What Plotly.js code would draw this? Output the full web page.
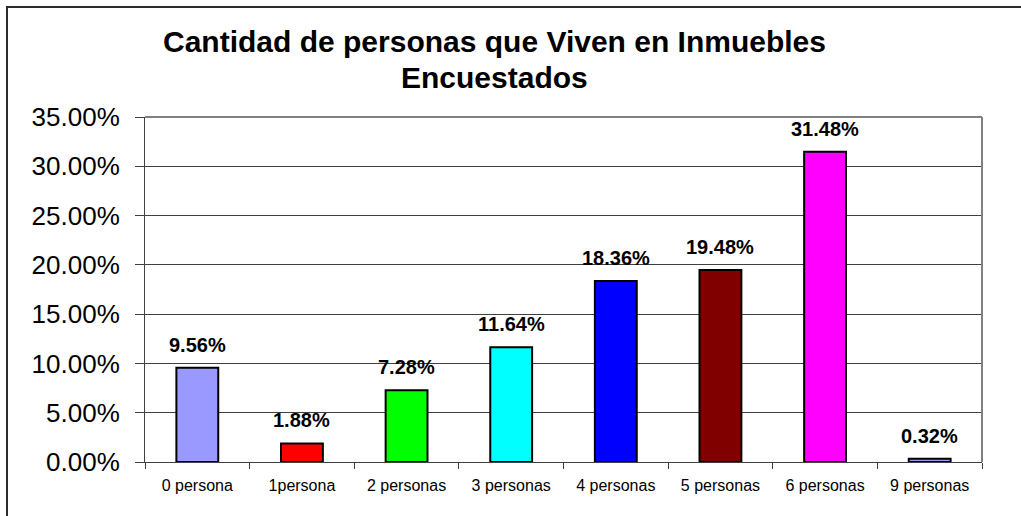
<!DOCTYPE html>
<html>
<head>
<meta charset="utf-8">
<script src="https://cdn.plot.ly/plotly-3.0.1.min.js"></script>
<style>
  html, body { margin: 0; padding: 0; background: #ffffff; }
  #wrap { position: relative; width: 1021px; height: 516px; overflow: hidden; }
  #chart { position: absolute; left: 0; top: 0; width: 1021px; height: 516px; }
  #frame { position: absolute; left: 6px; top: 6px; width: 1100px; height: 600px;
           border-left: 2px solid #2b2b2b; border-top: 2px solid #2b2b2b; pointer-events: none; }
</style>
</head>
<body>
<div id="wrap">
  <div id="chart"></div>
  <div id="frame"></div>
</div>
<script>
const categories = ["0 persona", "1persona", "2 personas", "3 personas", "4 personas", "5 personas", "6 personas", "9 personas"];
const values = [0.0956, 0.0188, 0.0728, 0.1164, 0.1836, 0.1948, 0.3148, 0.0032];
const labels = ["9.56%", "1.88%", "7.28%", "11.64%", "18.36%", "19.48%", "31.48%", "0.32%"];
const colors = ["#9999FF", "#FF0000", "#00FF00", "#00FFFF", "#0000FF", "#800000", "#FF00FF", "#9999FF"];
const titleLines = ["Cantidad de personas que Viven en Inmuebles", "Encuestados"];

const FONT = "Arial, 'Liberation Sans', sans-serif";

const trace = {
  type: "bar",
  x: categories,
  y: values,
  marker: { color: colors, line: { color: "#000000", width: 2 } },
  hoverinfo: "none"
};

const annotations = categories.map((c, i) => ({
  x: c, y: values[i], xref: "x", yref: "y",
  text: "<b>" + labels[i] + "</b>",
  showarrow: false, yanchor: "bottom", yshift: 10,
  font: { family: FONT, size: 20, color: "#000000" }
}));

// title lines as annotations (paper coords relative to plot area)
const titleY = [1.165, 1.061];
titleLines.forEach((t, i) => {
  annotations.push({
    x: 0.418, y: titleY[i], xref: "paper", yref: "paper",
    xanchor: "center", yanchor: "bottom",
    text: "<b>" + t + "</b>", showarrow: false,
    font: { family: FONT, size: 30, color: "#000000" }
  });
});

const layout = {
  width: 1021, height: 516,
  margin: { l: 145, r: 39, t: 117, b: 54, pad: 0 },
  paper_bgcolor: "#ffffff", plot_bgcolor: "#ffffff",
  showlegend: false,
  bargap: 0.6,
  xaxis: {
    type: "category",
    showgrid: false,
    showline: true, linecolor: "#404040", linewidth: 1,
    ticks: "outside", tickson: "boundaries", ticklen: 6, tickcolor: "#404040", tickwidth: 1,
    ticklabelstandoff: 9,
    tickfont: { family: FONT, size: 16, color: "#000000" },
    fixedrange: true
  },
  yaxis: {
    range: [0, 0.35],
    tickvals: [0, 0.05, 0.10, 0.15, 0.20, 0.25, 0.30, 0.35],
    tickformat: ".2%",
    showgrid: true, gridcolor: "#404040", gridwidth: 1,
    showline: true, linecolor: "#404040", linewidth: 1,
    ticks: "outside", ticklen: 9, tickcolor: "#404040", tickwidth: 1,
    ticklabelstandoff: 10,
    zeroline: false,
    tickfont: { family: FONT, size: 26, color: "#000000" },
    fixedrange: true
  },
  shapes: [
    { type: "line", xref: "paper", yref: "paper", x0: 0, x1: 1, y0: 1, y1: 1, line: { color: "#808080", width: 2 } },
    { type: "line", xref: "paper", yref: "paper", x0: 1, x1: 1, y0: 0, y1: 1, line: { color: "#808080", width: 2 } }
  ],
  annotations: annotations
};

Plotly.newPlot("chart", [trace], layout, { displayModeBar: false, staticPlot: true });
</script>
</body>
</html>
